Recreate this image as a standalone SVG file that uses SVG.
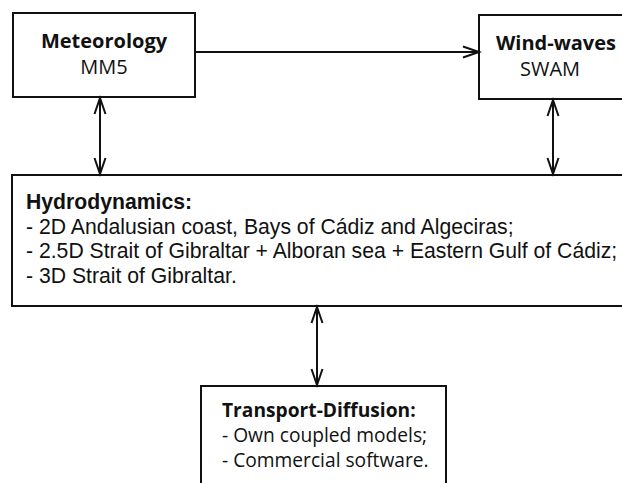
<svg xmlns="http://www.w3.org/2000/svg" width="622" height="483" viewBox="0 0 622 483">
<defs>
<style>
.box{fill:#fff;stroke:#111;stroke-width:2}
.conn{stroke:#111;stroke-width:2;fill:none}
.os{font-family:"Open Sans","DejaVu Sans",sans-serif;font-size:20px;fill:#111}
.sm{font-size:19.2px}
.ar{font-family:"Liberation Sans",Arial,sans-serif;font-size:21.2px;fill:#111}
.b{font-weight:bold}
</style>
<marker id="head" viewBox="0 0 20 14" refX="17" refY="7" markerWidth="20" markerHeight="14" markerUnits="userSpaceOnUse" orient="auto-start-reverse" overflow="visible">
<path d="M1,1.5 L17,7 L1,12.5" fill="none" stroke="#111" stroke-width="2"/>
</marker>
</defs>
<rect width="622" height="483" fill="#fff"/>
<g id="meteorology">
<rect class="box" x="13" y="13" width="182" height="84"/>
<text class="os b" x="104" y="48" text-anchor="middle">Meteorology</text>
<text class="os" x="104" y="74" text-anchor="middle">MM5</text>
</g>
<g id="wind-waves">
<rect class="box" x="479" y="15" width="170" height="84"/>
<text class="os b" x="556" y="50" text-anchor="middle">Wind-waves</text>
<text class="os" x="550" y="76" text-anchor="middle">SWAM</text>
</g>
<g id="hydrodynamics">
<rect class="box" x="12" y="175" width="640" height="131"/>
<text class="ar b" x="26" y="209">Hydrodynamics:</text>
<text class="ar" x="26" y="233.5">- 2D Andalusian coast, Bays of Cádiz and Algeciras;</text>
<text class="ar" x="26" y="258">- 2.5D Strait of Gibraltar + Alboran sea + Eastern Gulf of Cádiz;</text>
<text class="ar" x="26" y="282.5">- 3D Strait of Gibraltar.</text>
</g>
<g id="transport-diffusion">
<rect class="box" x="201" y="386" width="245" height="120"/>
<text class="os sm b" x="222" y="417">Transport-Diffusion:</text>
<text class="os sm" x="222" y="442">- Own coupled models;</text>
<text class="os sm" x="222" y="467">- Commercial software.</text>
</g>
<g id="connectors">
<line class="conn" x1="195" y1="52" x2="479" y2="52" marker-end="url(#head)"/>
<line class="conn" x1="100" y1="98" x2="100" y2="174" marker-start="url(#head)" marker-end="url(#head)"/>
<line class="conn" x1="553" y1="100" x2="553" y2="174" marker-start="url(#head)" marker-end="url(#head)"/>
<line class="conn" x1="317" y1="307" x2="317" y2="385" marker-start="url(#head)" marker-end="url(#head)"/>
</g>
</svg>
